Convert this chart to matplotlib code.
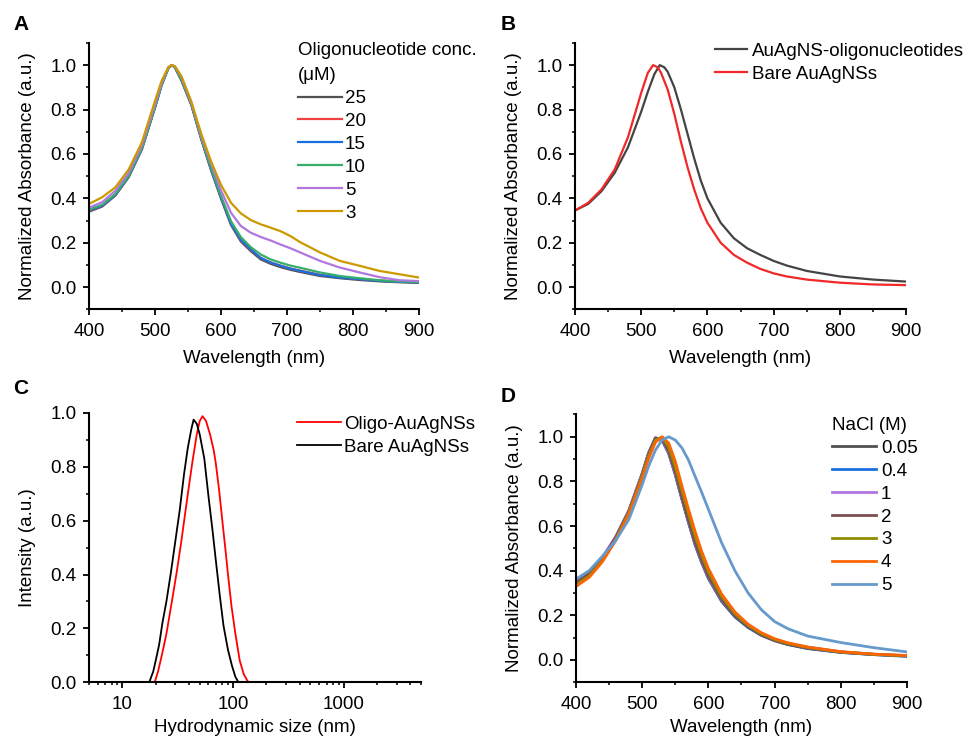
import matplotlib
matplotlib.use('Agg')
from matplotlib import pyplot as plt
from matplotlib.ticker import MultipleLocator, LogLocator, NullFormatter, FixedLocator, FixedFormatter

plt.rcParams['font.family'] = ['Liberation Sans', 'DejaVu Sans']
plt.rcParams['font.size'] = 13.5

# ---- panel A: UV-vis vs oligonucleotide concentration ----
wl_a = [400, 420, 440, 460, 480, 500, 510, 520, 525, 530, 540, 555, 570, 585, 600,
        615, 630, 645, 660, 675, 690, 705, 720, 750, 780, 810, 840, 870, 900]
conc_labels = ['25', '20', '15', '10', '5', '3']
abs_25 = [.340, .363, .413, .495, .620, .810, .910, .985, 1.0, .990, .930, .820, .665, .525, .398,
          .280, .205, .162, .125, .105, .090, .078, .068, .050, .040, .032, .026, .022, .019]
abs_20 = [.345, .366, .415, .497, .622, .811, .911, .986, 1.0, .990, .932, .821, .667, .527, .401,
          .284, .210, .168, .132, .111, .097, .084, .074, .056, .044, .036, .029, .025, .022]
abs_15 = [.346, .367, .416, .498, .623, .811, .911, .986, 1.0, .990, .933, .822, .668, .528, .402,
          .285, .212, .170, .131, .111, .096, .083, .073, .054, .043, .036, .028, .024, .021]
abs_10 = [.350, .371, .420, .501, .626, .813, .912, .986, 1.0, .990, .935, .825, .670, .535, .410,
          .297, .225, .180, .147, .125, .110, .097, .087, .066, .050, .040, .031, .026, .022]
abs_5 = [.358, .383, .435, .515, .638, .825, .920, .990, 1.0, .995, .945, .830, .680, .555, .435,
         .335, .275, .245, .226, .210, .192, .175, .156, .118, .088, .066, .045, .031, .027]
abs_3 = [.375, .405, .450, .530, .652, .840, .930, .990, 1.0, .995, .950, .835, .690, .565, .460,
         .380, .332, .302, .283, .268, .252, .230, .202, .156, .118, .096, .073, .058, .043]
colors_a = ['#515151', '#F14040', '#1A6FDF', '#37AD6B', '#B177DE', '#CC9900']

# ---- panel B: functionalised vs bare ----
wl_b_oligo = [400, 420, 440, 460, 480, 500, 510, 520, 528, 535, 540, 550, 560, 570, 580, 590, 600,
              620, 640, 660, 680, 700, 720, 750, 800, 850, 900]
abs_b_oligo = [.345, .375, .432, .515, .630, .790, .880, .960, 1.0, .990, .970, .900, .800, .690, .580,
               .480, .400, .290, .220, .175, .145, .118, .097, .073, .048, .034, .025]
wl_b_bare = [400, 420, 440, 460, 480, 500, 510, 518, 525, 530, 540, 550, 560, 570, 580, 590, 600,
             620, 640, 660, 680, 700, 720, 750, 800, 850, 900]
abs_b_bare = [.345, .380, .440, .530, .675, .875, .965, 1.0, .990, .965, .890, .780, .655, .540, .440,
              .355, .290, .200, .145, .110, .082, .062, .048, .034, .020, .012, .009]

# ---- panel C: DLS size distribution ----
size_oligo = [19.6, 21, 23, 25, 28, 31, 34, 37, 40, 43, 47, 50, 53, 57, 62, 67, 70, 75, 80, 85,
              90, 97, 105, 115, 125, 135, 140]
int_oligo = [0.0, 0.04, 0.11, 0.18, 0.30, 0.41, 0.52, 0.63, 0.73, 0.82, 0.92, 0.97, 0.988, 0.97, 0.92,
             0.86, 0.81, 0.71, 0.60, 0.50, 0.40, 0.28, 0.18, 0.08, 0.03, 0.005, 0.0]
size_bare = [17.5, 19, 20, 21.5, 23, 25, 27.5, 30, 33, 36, 39, 42, 44, 47, 50, 55, 60, 65, 70, 76,
             82, 90, 98, 105, 112]
int_bare = [0.0, 0.04, 0.08, 0.14, 0.22, 0.30, 0.41, 0.52, 0.64, 0.77, 0.87, 0.94, 0.975, 0.96, 0.92,
            0.83, 0.69, 0.57, 0.45, 0.32, 0.21, 0.12, 0.06, 0.02, 0.0]

# ---- panel D: salt stability ----
wl_d = [400, 420, 440, 460, 480, 500, 510, 520, 530, 540, 550, 560, 570, 580, 590, 600,
        620, 640, 660, 680, 700, 720, 750, 800, 850, 900]
nacl_labels = ['0.05', '0.4', '1', '2', '3', '4', '5']
abs_d_005 = [.345, .387, .455, .550, .670, .835, .930, .995, .985, .925, .830, .720, .615, .515, .435, .365,
             .262, .193, .145, .110, .086, .069, .051, .034, .024, .018]
abs_d_04 = [.343, .385, .454, .549, .668, .832, .928, .995, .985, .928, .832, .722, .618, .518, .437, .368,
            .266, .197, .148, .112, .088, .070, .052, .034, .024, .016]
abs_d_1 = [.355, .395, .460, .552, .670, .835, .930, .995, .987, .930, .835, .727, .622, .522, .442, .372,
           .270, .202, .153, .118, .092, .074, .057, .037, .026, .019]
abs_d_2 = [.348, .388, .455, .548, .666, .830, .925, .993, .990, .935, .840, .730, .625, .525, .445, .375,
           .272, .200, .150, .113, .088, .070, .053, .035, .025, .018]
abs_d_3 = [.335, .376, .445, .540, .660, .822, .915, .985, .998, .955, .865, .760, .655, .555, .468, .395,
           .285, .208, .155, .118, .092, .074, .056, .036, .025, .019]
abs_d_4 = [.329, .370, .440, .535, .655, .815, .905, .975, 1.0, .972, .890, .780, .675, .575, .485, .410,
           .295, .215, .160, .122, .095, .077, .058, .037, .026, .020]
abs_d_5 = [.362, .400, .465, .535, .630, .785, .870, .940, .985, 1.0, .985, .950, .895, .822, .750, .675,
           .525, .400, .300, .225, .172, .140, .107, .078, .055, .036]
colors_d = ['#515151', '#1A6FDF', '#B177DE', '#7D4E4E', '#8E8E00', '#FB6501', '#6699CC']

FS = 13.5


def style_axes(ax):
    for side in ['top', 'right']:
        ax.spines[side].set_visible(False)
    for side in ['left', 'bottom']:
        ax.spines[side].set_linewidth(1.5)
    ax.tick_params(which='major', direction='out', length=4, width=1.3, labelsize=FS)
    ax.tick_params(which='minor', direction='out', length=2.5, width=1.1)
    ax.tick_params(axis='x', which='major', pad=6)
    ax.tick_params(axis='y', which='major', pad=5)


def style_wavelength(ax, xpad):
    style_axes(ax)
    ax.set_xlim(400, 900)
    ax.set_ylim(-0.1, 1.1)
    ax.xaxis.set_major_locator(MultipleLocator(100))
    ax.xaxis.set_minor_locator(MultipleLocator(50))
    ax.yaxis.set_major_locator(MultipleLocator(0.2))
    ax.yaxis.set_minor_locator(MultipleLocator(0.1))
    ax.yaxis.set_major_formatter(plt.FormatStrFormatter('%.1f'))
    ax.set_xlabel('Wavelength (nm)', fontsize=FS, labelpad=xpad)
    ax.set_ylabel('Normalized Absorbance (a.u.)', fontsize=FS, labelpad=10)


fig = plt.figure(figsize=(9.68, 7.40), dpi=100)

axA = fig.add_axes([0.092, 0.582, 0.341, 0.360])
axB = fig.add_axes([0.594, 0.582, 0.342, 0.360])
axC = fig.add_axes([0.092, 0.078, 0.343, 0.364])
axD = fig.add_axes([0.595, 0.078, 0.342, 0.362])

# A
series_a = [abs_25, abs_20, abs_15, abs_10, abs_5, abs_3]
for vals, lab, c in zip(series_a, conc_labels, colors_a):
    axA.plot(wl_a, vals, color=c, lw=1.6, label=lab)
style_wavelength(axA, 7)
legA = axA.legend(title='Oligonucleotide conc.\n(\u03bcM)', frameon=False, loc='upper left',
                  bbox_to_anchor=(0.633, 1.002), borderaxespad=0, borderpad=0, handlelength=2.35,
                  handletextpad=0.16, labelspacing=0.31, fontsize=FS, title_fontsize=FS,
                  alignment='left')
legA.get_title().set_linespacing(1.6)

# B
axB.plot(wl_b_oligo, abs_b_oligo, color='#444444', lw=1.6, label='AuAgNS-oligonucleotides')
axB.plot(wl_b_bare, abs_b_bare, color='#F02828', lw=1.6, label='Bare AuAgNSs')
style_wavelength(axB, 7)
axB.legend(frameon=False, loc='upper left', bbox_to_anchor=(0.423, 1.001), borderaxespad=0,
           borderpad=0, handlelength=1.7, handletextpad=0.27, labelspacing=0.31, fontsize=FS)

# C
axC.plot(size_oligo, int_oligo, color='#FF0000', lw=1.3, label='Oligo-AuAgNSs')
axC.plot(size_bare, int_bare, color='black', lw=1.3, label='Bare AuAgNSs')
style_axes(axC)
axC.set_xscale('log')
axC.set_xlim(5, 5000)
axC.set_ylim(0, 1.0)
axC.xaxis.set_major_locator(FixedLocator([10, 100, 1000]))
axC.xaxis.set_major_formatter(FixedFormatter(['10', '100', '1000']))
axC.xaxis.set_minor_locator(LogLocator(base=10, subs=range(2, 10)))
axC.xaxis.set_minor_formatter(NullFormatter())
axC.yaxis.set_major_locator(MultipleLocator(0.2))
axC.yaxis.set_minor_locator(MultipleLocator(0.1))
axC.yaxis.set_major_formatter(plt.FormatStrFormatter('%.1f'))
axC.set_xlabel('Hydrodynamic size (nm)', fontsize=FS, labelpad=4)
axC.set_ylabel('Intensity (a.u.)', fontsize=FS, labelpad=10)
axC.legend(frameon=False, loc='upper left', bbox_to_anchor=(0.627, 0.989), borderaxespad=0,
           borderpad=0, handlelength=2.35, handletextpad=0.16, labelspacing=0.31, fontsize=FS)

# D
series_d = [abs_d_005, abs_d_04, abs_d_1, abs_d_2, abs_d_3, abs_d_4, abs_d_5]
for vals, lab, c in zip(series_d, nacl_labels, colors_d):
    axD.plot(wl_d, vals, color=c, lw=2.0, label=lab)
style_wavelength(axD, 4)
axD.legend(title='NaCl (M)', frameon=False, loc='upper left', bbox_to_anchor=(0.773, 0.991),
           borderaxespad=0, borderpad=0, handlelength=2.35, handletextpad=0.27, labelspacing=0.31,
           fontsize=FS, title_fontsize=FS, alignment='left')

# panel letters
for letter, x, y in [('A', 21, 25), ('B', 508, 25), ('C', 21, 389), ('D', 508, 397)]:
    fig.text(x / 968, 1 - y / 740, letter, fontsize=15, fontweight='bold', ha='center', va='center')

fig.savefig('out.png', dpi=100)
